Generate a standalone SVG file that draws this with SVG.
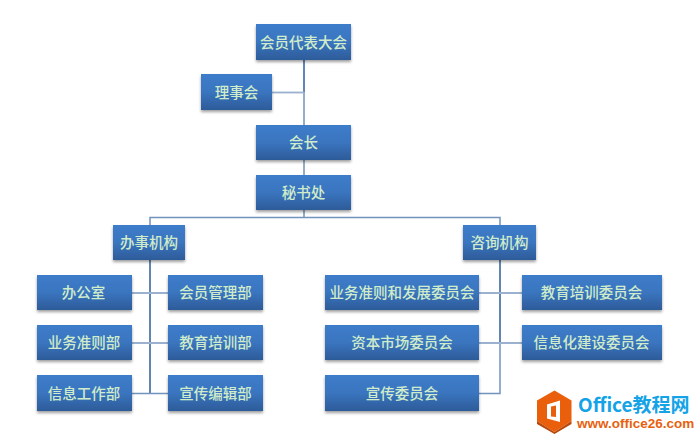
<svg xmlns="http://www.w3.org/2000/svg" width="700" height="439" viewBox="0 0 700 439">
<style>
.b{fill:url(#g);filter:url(#s)}
.t{font-family:"Noto Sans CJK SC",sans-serif;font-size:14.500px;font-weight:500;fill:#d0ecca;text-anchor:middle;dominant-baseline:central}
.c{fill:none;stroke:#7094bd;stroke-width:1.500}
.d{fill:none;stroke:#5079ac;stroke-width:1.800}
.h{fill:none;stroke:#9ab2d0;stroke-width:1.800}
</style>
<defs>
<linearGradient id="g" x1="0" y1="0" x2="0" y2="1"><stop offset="0" stop-color="#3d7cca"/><stop offset=".5" stop-color="#3a75bf"/><stop offset="1" stop-color="#2d5b99"/></linearGradient>
<filter id="s" x="-10%" y="-10%" width="120%" height="140%"><feDropShadow dx="0" dy="2" stdDeviation="1.600" flood-color="#000" flood-opacity=".38"/></filter>
</defs>
<rect width="700" height="439" fill="#fff"/>
<g id="connectors">
<path class="d" d="M304 60V92"/>
<path class="c" d="M304 92V125M304 160V175M304 210V217"/>
<path class="h" d="M272 92.500H304"/>
<path class="c" d="M150 225V217.500H500V225"/>
<path class="d" d="M150 260V393M500 260V343"/>
<path class="c" d="M500 343V393.500H479"/>
<path class="h" d="M132 293H168M132 343H168M479 293H522M479 343H522"/>
<path class="c" d="M132 393.500H168"/>
</g>
<g id="n1"><rect class="b" x="256" y="24" width="95" height="36"/><text class="t" x="303.500" y="41">会员代表大会</text></g>
<g id="n2"><rect class="b" x="201" y="74" width="71" height="36"/><text class="t" x="236.500" y="91">理事会</text></g>
<g id="n3"><rect class="b" x="256" y="125" width="95" height="35"/><text class="t" x="303.500" y="141.500">会长</text></g>
<g id="n4"><rect class="b" x="256" y="175" width="95" height="35"/><text class="t" x="303.500" y="191.500">秘书处</text></g>
<g id="n5"><rect class="b" x="113" y="225" width="72" height="35"/><text class="t" x="149" y="241.500">办事机构</text></g>
<g id="n6"><rect class="b" x="463" y="225" width="73" height="35"/><text class="t" x="499.500" y="241.500">咨询机构</text></g>
<g id="n7"><rect class="b" x="37" y="275" width="95" height="35"/><text class="t" x="83.500" y="291.500">办公室</text></g>
<g id="n8"><rect class="b" x="168" y="275" width="95" height="35"/><text class="t" x="215.500" y="291.500">会员管理部</text></g>
<g id="n9"><rect class="b" x="37" y="325" width="95" height="35"/><text class="t" x="84" y="341.500">业务准则部</text></g>
<g id="n10"><rect class="b" x="168" y="325" width="95" height="35"/><text class="t" x="215.500" y="341.500">教育培训部</text></g>
<g id="n11"><rect class="b" x="37" y="375" width="95" height="36"/><text class="t" x="84" y="392">信息工作部</text></g>
<g id="n12"><rect class="b" x="168" y="375" width="95" height="36"/><text class="t" x="215.500" y="392">宣传编辑部</text></g>
<g id="n13"><rect class="b" x="325" y="275" width="154" height="35"/><text class="t" x="402" y="291.500">业务准则和发展委员会</text></g>
<g id="n14"><rect class="b" x="522" y="275" width="140" height="35"/><text class="t" x="591.500" y="291.500">教育培训委员会</text></g>
<g id="n15"><rect class="b" x="325" y="325" width="154" height="35"/><text class="t" x="402" y="341.500">资本市场委员会</text></g>
<g id="n16"><rect class="b" x="522" y="325" width="140" height="35"/><text class="t" x="591.500" y="341.500">信息化建设委员会</text></g>
<g id="n17"><rect class="b" x="325" y="375" width="154" height="36"/><text class="t" x="402" y="392">宣传委员会</text></g>
<g id="logo">
<path d="M554.500 390.500L571.500 400.500V421L554.500 432L537 421V400.500Z" fill="#ea5f0c"/>
<path d="M537 421L554.500 432L571.500 421V424L554.500 434L537 424Z" fill="#b9480a"/>
<path d="M547 404.500L560 400.500V422L547 418.500ZM551 406.500V416.500L556 417V405.500Z" fill="#fff" fill-rule="evenodd"/>
<text x="578" y="412" font-family="'Noto Sans CJK SC',sans-serif" font-size="19" font-weight="700" fill="#14a3e6">Office教程网</text>
<text x="577" y="428" font-family="'Liberation Sans',sans-serif" font-size="13.500" font-weight="700" fill="#e8610f">www.office26.com</text>
</g>
</svg>
